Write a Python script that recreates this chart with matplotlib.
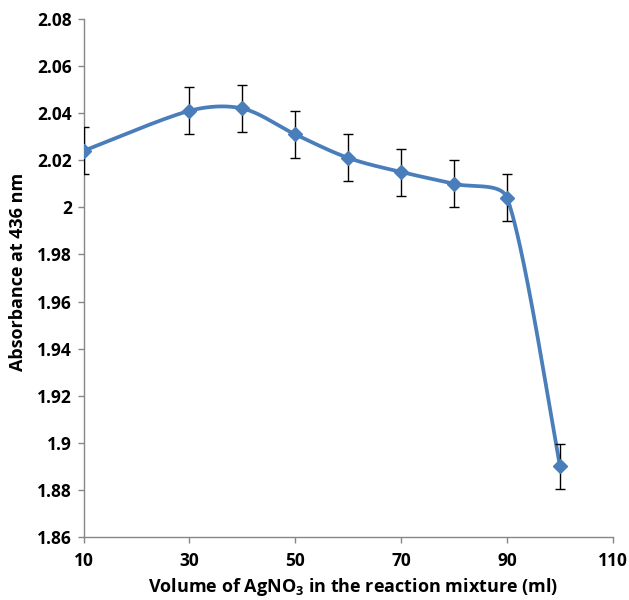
import numpy as np
import matplotlib
matplotlib.use("Agg")
import matplotlib.pyplot as plt
from matplotlib.ticker import FuncFormatter

plt.rcParams['font.family'] = ['Open Sans', 'DejaVu Sans']
plt.rcParams['mathtext.fontset'] = 'custom'
plt.rcParams['mathtext.rm'] = 'Open Sans'
plt.rcParams['mathtext.bf'] = 'Open Sans:bold'

# data
volume_ml = [10, 30, 40, 50, 60, 70, 80, 90, 100]
absorbance = [2.024, 2.041, 2.042, 2.031, 2.021, 2.015, 2.010, 2.004, 1.890]
error = [0.010, 0.010, 0.010, 0.010, 0.010, 0.010, 0.010, 0.010, 0.0095]
x_ticks = [10, 30, 50, 70, 90, 110]
y_ticks = [1.86, 1.88, 1.90, 1.92, 1.94, 1.96, 1.98, 2.00, 2.02, 2.04, 2.06, 2.08]

LINE_BLUE = "#4a7ebb"
AXIS_GRAY = "#868686"

XLIM = (10, 110)
YLIM = (1.86, 2.08)
FIG_W, FIG_H = 629, 600
AX_RECT = [83.5 / FIG_W, 1 - 537 / FIG_H, (613 - 83.5) / FIG_W, (537 - 19) / FIG_H]


def smooth_curve(xs, ys, sx, sy, n=80):
    # bezier smoothing roughly like Excel's "smoothed line", done in pixel space
    p = np.column_stack([np.array(xs) * sx, np.array(ys) * sy]).astype(float)
    ext = np.vstack([p[0], p, p[-1]])
    out = []
    for i in range(len(p) - 1):
        p0, p1, p2, p3 = ext[i], ext[i + 1], ext[i + 2], ext[i + 3]
        d0 = np.linalg.norm(p1 - p0)
        d1 = np.linalg.norm(p2 - p1)
        d2 = np.linalg.norm(p3 - p2)
        # shrink a handle only when the neighbouring segment is much longer
        f1 = min(1.0, 2 * d1 / (d0 + d1)) if d0 > 0 else 1.0
        f2 = min(1.0, 2 * d1 / (d1 + d2)) if d2 > 0 else 1.0
        c1 = p1 + (p2 - p0) / 6.0 * f1
        c2 = p2 - (p3 - p1) / 6.0 * f2
        t = np.linspace(0, 1, n)[:, None]
        seg = ((1 - t) ** 3) * p1 + 3 * ((1 - t) ** 2) * t * c1 + 3 * (1 - t) * t ** 2 * c2 + t ** 3 * p2
        out.append(seg if i == 0 else seg[1:])
    pts = np.vstack(out)
    return pts[:, 0] / sx, pts[:, 1] / sy


fig = plt.figure(figsize=(6.29, 6.0), dpi=100)
ax = fig.add_axes(AX_RECT)

sx = AX_RECT[2] * FIG_W / (XLIM[1] - XLIM[0])
sy = AX_RECT[3] * FIG_H / (YLIM[1] - YLIM[0])
cx, cy = smooth_curve(volume_ml, absorbance, sx, sy)
ax.plot(cx, cy, color=LINE_BLUE, lw=2.7, solid_capstyle='round', zorder=2)
ax.errorbar(volume_ml, absorbance, yerr=error, fmt='none', ecolor='black',
            elinewidth=1.0, capsize=3.5, capthick=1.0, zorder=3)
ax.plot(volume_ml, absorbance, ls='none', marker='D', ms=7.5, color=LINE_BLUE,
        markeredgecolor=LINE_BLUE, zorder=4)

ax.set_xlim(*XLIM)
ax.set_ylim(*YLIM)
ax.set_xticks(x_ticks)
ax.set_yticks(y_ticks)
ax.yaxis.set_major_formatter(FuncFormatter(lambda v, pos: f"{round(v, 2):g}"))

for side in ['top', 'right']:
    ax.spines[side].set_visible(False)
for side in ['left', 'bottom']:
    ax.spines[side].set_color(AXIS_GRAY)
    ax.spines[side].set_linewidth(1.0)
ax.tick_params(direction='out', length=4.5, width=1.0, color=AXIS_GRAY,
               labelsize=12.5)
ax.tick_params(axis='x', pad=6)
ax.tick_params(axis='y', pad=4)
for lbl in ax.get_xticklabels() + ax.get_yticklabels():
    lbl.set_fontweight('bold')

ax.set_xlabel(r"Volume of AgNO$_\mathbf{3}$ in the reaction mixture (ml)",
              fontsize=13, fontweight='bold')
ax.set_ylabel("Absorbance at 436 nm", fontsize=13, fontweight='bold')
ax.xaxis.set_label_coords(0.51, -(587 - 537) / AX_RECT[3] / FIG_H)
ax.yaxis.set_label_coords(-(83.5 - 18) / AX_RECT[2] / FIG_W, 0.512)
ax.xaxis.label.set_va('center')
ax.yaxis.label.set_va('center')

fig.savefig("out.png", dpi=100)
